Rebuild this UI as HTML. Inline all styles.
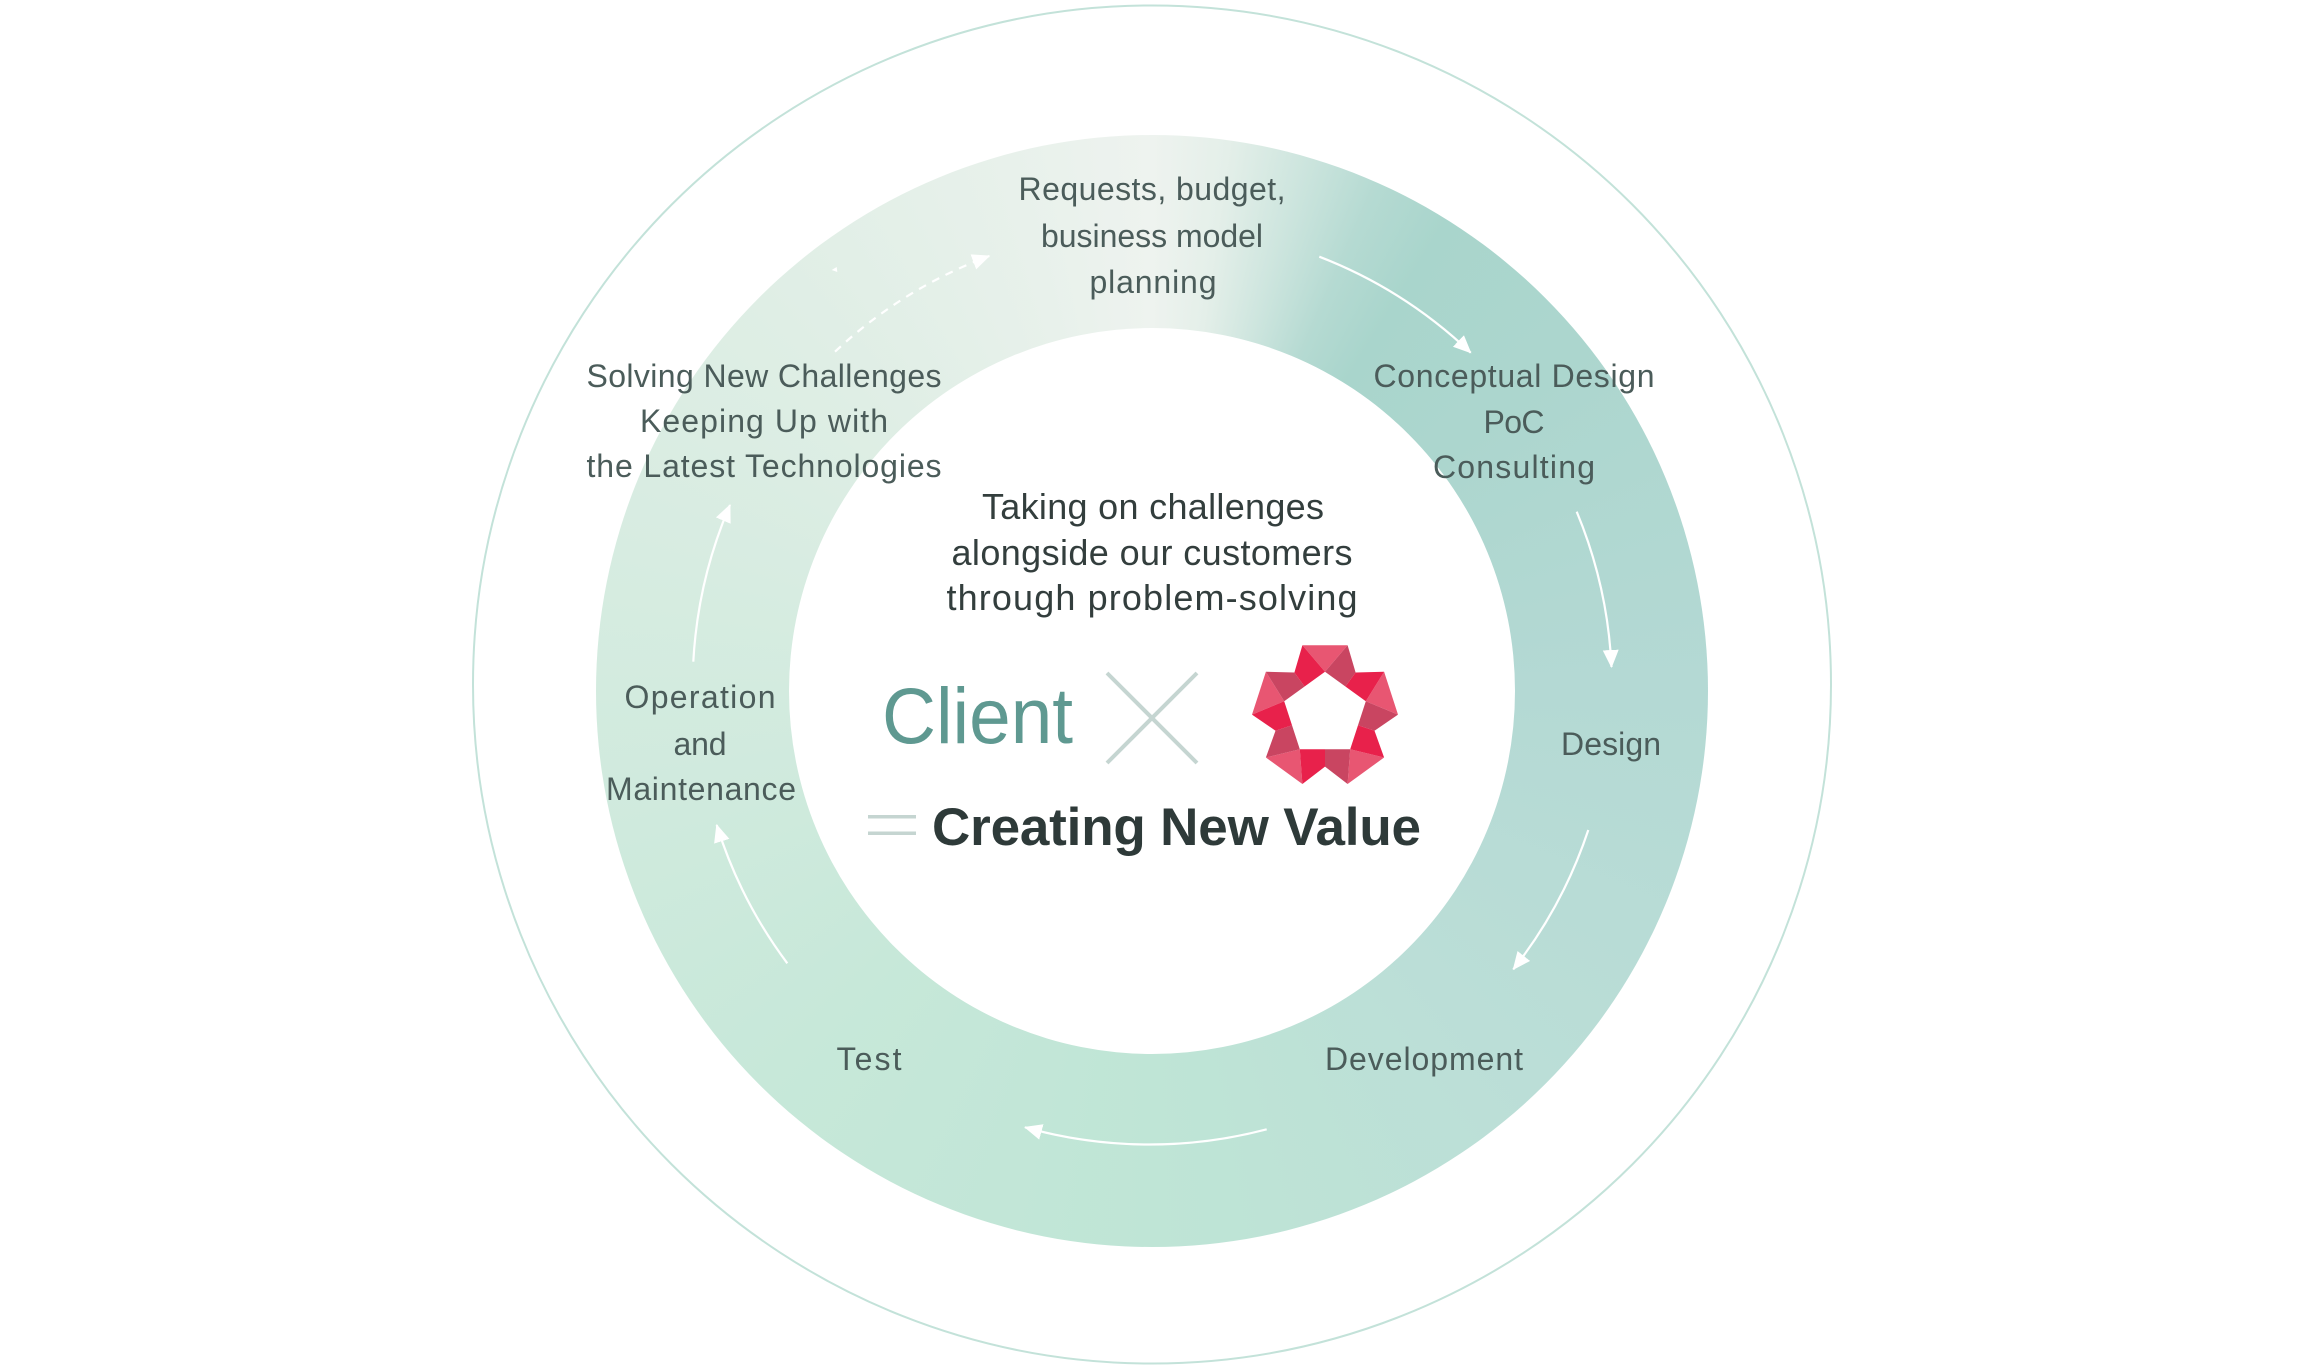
<!DOCTYPE html>
<html>
<head>
<meta charset="utf-8">
<style>
html,body{margin:0;padding:0;background:#fff;}
body{width:2305px;height:1369px;overflow:hidden;position:relative;}
#ring{position:absolute;left:596px;top:135px;width:1112px;height:1112px;border-radius:50%;
background:conic-gradient(from 0deg at 50% 50%,#eef3ef 0deg,#e4efe9 8deg,#cde5de 16deg,#b5dad2 24deg,#a9d5cc 32deg,#acd6ce 50deg,#b4d9d4 90deg,#bbded7 135deg,#bfe5d6 180deg,#c7e8d9 225deg,#d3ebdf 270deg,#dfeee5 315deg,#e8f1eb 345deg,#eef3ef 360deg);}
#hole{position:absolute;left:789px;top:328px;width:726px;height:726px;border-radius:50%;background:#fff;}
svg{position:absolute;left:0;top:0;}
text{font-family:"Liberation Sans",sans-serif;}
.lbl{font-size:32px;fill:#4b5c5a;text-anchor:middle;}
.ctr{font-size:36px;fill:#333e3d;text-anchor:middle;}
</style>
</head>
<body>
<div id="ring"></div>
<div id="hole"></div>
<svg width="2305" height="1369" viewBox="0 0 2305 1369" xmlns="http://www.w3.org/2000/svg">
<defs>
<marker id="ah" markerUnits="userSpaceOnUse" markerWidth="20" markerHeight="18" refX="17" refY="8" orient="auto">
<path d="M0,0 L18,8 L0,16 z" fill="#ffffff"/>
</marker>
</defs>

<!-- outer circle -->
<circle cx="1152" cy="684.5" r="679" fill="none" stroke="#c3e2d9" stroke-width="2"/>

<!-- arrows -->
<g fill="none" stroke="#ffffff" stroke-width="2.2">
<path d="M 835 351.7 A 459 459 0 0 1 989.3 256" stroke-dasharray="8 7" marker-end="url(#ah)"/>
<path d="M 1319.3 256.7 A 459 459 0 0 1 1470.7 352.7" marker-end="url(#ah)"/>
<path d="M 1576.7 511.7 A 459 459 0 0 1 1611.5 667" marker-end="url(#ah)"/>
<path d="M 1588.3 830 A 459 459 0 0 1 1513.3 969.3" marker-end="url(#ah)"/>
<path d="M 1266.7 1129.3 A 459 459 0 0 1 1025 1127.3" marker-end="url(#ah)"/>
<path d="M 787.3 963.3 A 459 459 0 0 1 716.7 825" marker-end="url(#ah)"/>
<path d="M 693.3 661.7 A 459 459 0 0 1 730 505" marker-end="url(#ah)"/>
</g>
<polygon points="831.7,270 836.7,267 837.3,272" fill="#ffffff"/>

<!-- ring labels -->
<text class="lbl" x="1152" y="200" textLength="267">Requests, budget,</text>
<text class="lbl" x="1152" y="247" textLength="222">business model</text>
<text class="lbl" x="1153" y="293" textLength="127">planning</text>

<text class="lbl" x="1514" y="387" textLength="281">Conceptual Design</text>
<text class="lbl" x="1514" y="433" textLength="61">PoC</text>
<text class="lbl" x="1514" y="478" textLength="162">Consulting</text>

<text class="lbl" x="764" y="387" textLength="355">Solving New Challenges</text>
<text class="lbl" x="764" y="432" textLength="248">Keeping Up with</text>
<text class="lbl" x="764" y="477" textLength="355">the Latest Technologies</text>

<text class="lbl" x="700" y="708" textLength="151">Operation</text>
<text class="lbl" x="700" y="755" textLength="53">and</text>
<text class="lbl" x="701" y="800" textLength="190">Maintenance</text>

<text class="lbl" x="1611" y="755" textLength="100">Design</text>
<text class="lbl" x="1424" y="1070" textLength="198">Development</text>
<text class="lbl" x="869" y="1070" textLength="65">Test</text>

<!-- center text -->
<text class="ctr" x="1153" y="519" textLength="342">Taking on challenges</text>
<text class="ctr" x="1152" y="565" textLength="401">alongside our customers</text>
<text class="ctr" x="1152" y="610" textLength="411">through problem-solving</text>

<text x="882" y="743" font-size="79" fill="#5f9991" textLength="191" lengthAdjust="spacingAndGlyphs">Client</text>

<!-- cross -->
<g stroke="#c5d5d1" stroke-width="4" stroke-linecap="butt">
<line x1="1107" y1="673" x2="1197" y2="763"/>
<line x1="1197" y1="673" x2="1107" y2="763"/>
</g>

<!-- logo -->
<g>
<!-- pink triangles -->
<g fill="#e85672">
<polygon points="1325,671.7 1302.4,645.2 1347.6,645.2"/>
<polygon points="1365.8,701.3 1384.1,671.7 1398,714.6"/>
<polygon points="1350.2,749.3 1384.1,757.5 1347.6,784"/>
<polygon points="1299.8,749.3 1302.4,784 1265.9,757.5"/>
<polygon points="1284.2,701.3 1252,714.6 1265.9,671.7"/>
</g>
<!-- mauve quads -->
<g fill="#c94561">
<polygon points="1325,671.7 1345.4,686.5 1355.6,672.5 1347.6,645.2"/>
<polygon points="1365.8,701.3 1358,725.3 1374.5,730.7 1398,714.6"/>
<polygon points="1350.2,749.3 1325,749.3 1325,766.6 1347.6,784"/>
<polygon points="1299.8,749.3 1292,725.3 1275.5,730.7 1265.9,757.5"/>
<polygon points="1284.2,701.3 1304.6,686.5 1294.4,672.5 1265.9,671.7"/>
</g>
<!-- red quads -->
<g fill="#e8214b">
<polygon points="1345.4,686.5 1365.8,701.3 1384.1,671.7 1355.6,672.5"/>
<polygon points="1358,725.3 1350.2,749.3 1384.1,757.5 1374.5,730.7"/>
<polygon points="1325,749.3 1299.8,749.3 1302.4,784 1325,766.6"/>
<polygon points="1292,725.3 1284.2,701.3 1252,714.6 1275.5,730.7"/>
<polygon points="1304.6,686.5 1325,671.7 1302.4,645.2 1294.4,672.5"/>
</g>
</g>

<!-- equals + Creating New Value -->
<rect x="868" y="815" width="48" height="3.5" fill="#c5d5d1"/>
<rect x="868" y="831.5" width="48" height="3.5" fill="#c5d5d1"/>
<text x="932" y="845" font-size="53" font-weight="bold" fill="#2e3a39" textLength="489">Creating New Value</text>
</svg>
</body>
</html>
